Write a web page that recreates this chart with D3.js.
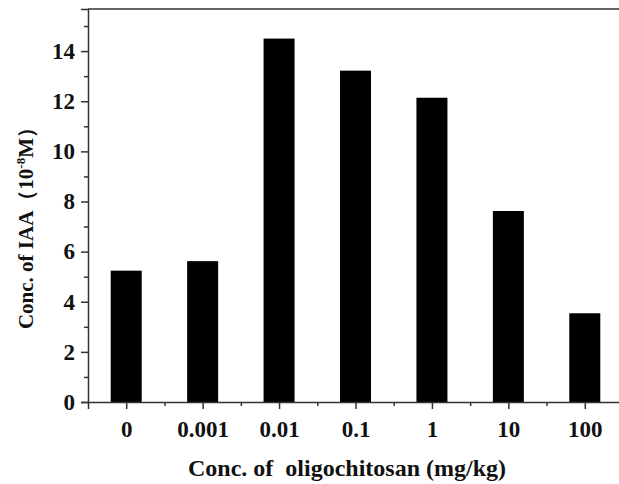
<!DOCTYPE html>
<html lang="en">
<head>
<meta charset="UTF-8">
<title>Conc. of IAA</title>
<script src="https://d3js.org/d3.v7.min.js"></script>
<style>
    body {
        margin: 0;
        padding: 0;
        background: #fff;
        overflow: hidden;
    }
    svg text {
        font-family: "Liberation Serif", "Times New Roman", serif;
        font-weight: bold;
        fill: #111;
    }
</style>
</head>
<body>
<div id="chart"></div>
<script>
    // data
    const categories = ['0', '0.001', '0.01', '0.1', '1', '10', '100'];
    const iaaValues = [5.24, 5.62, 14.5, 13.22, 12.14, 7.62, 3.54];
    const yTicks = [0, 2, 4, 6, 8, 10, 12, 14];
    const yMinorTicks = [1, 3, 5, 7, 9, 11, 13, 15];

    const W = 619, H = 484;
    const margin = {left: 88, top: 9, right: -4, bottom: 82};
    const plotW = W - margin.left - margin.right;
    const plotH = H - margin.top - margin.bottom;

    const svg = d3.select('#chart').append('svg')
        .attr('width', W)
        .attr('height', H);

    const g = svg.append('g')
        .attr('transform', `translate(${margin.left},${margin.top})`);

    // x as a linear index scale so minor ticks can sit between categories
    const x = d3.scaleLinear()
        .domain([-0.5, categories.length - 0.5])
        .range([0, plotW]);

    const y = d3.scaleLinear()
        .domain([0, 15.68])
        .range([plotH, 0]);

    const barW = 31;

    // bars
    g.selectAll('rect.bar')
        .data(iaaValues)
        .enter()
        .append('rect')
        .attr('class', 'bar')
        .attr('x', (d, i) => x(i) - barW / 2)
        .attr('y', d => y(d))
        .attr('width', barW)
        .attr('height', d => y(0) - y(d))
        .attr('fill', '#000');

    // frame: top line
    g.append('line')
        .attr('x1', 0).attr('x2', plotW)
        .attr('y1', 0).attr('y2', 0)
        .attr('stroke', '#333').attr('stroke-width', 1.5);

    // y axis
    const yAxis = g.append('g')
        .call(d3.axisLeft(y).tickValues(yTicks).tickSize(7).tickPadding(6).tickFormat(d3.format('d')));
    yAxis.select('.domain').attr('stroke', '#333').attr('stroke-width', 1.5);
    yAxis.selectAll('.tick line').attr('stroke', '#333').attr('stroke-width', 1.5);
    yAxis.selectAll('text').style('font-size', '23px');

    const yMinor = g.append('g')
        .call(d3.axisLeft(y).tickValues(yMinorTicks).tickSize(4).tickFormat(''));
    yMinor.select('.domain').remove();
    yMinor.selectAll('.tick line').attr('stroke', '#333').attr('stroke-width', 1.5);

    // x axis
    const xAxis = g.append('g')
        .attr('transform', `translate(0,${plotH})`)
        .call(d3.axisBottom(x).tickValues(d3.range(categories.length))
            .tickSize(7).tickPadding(12).tickFormat(i => categories[i]));
    xAxis.select('.domain').attr('stroke', '#333').attr('stroke-width', 1.5);
    xAxis.selectAll('.tick line').attr('stroke', '#333').attr('stroke-width', 1.5);
    xAxis.selectAll('text').style('font-size', '23px');

    const xMinor = g.append('g')
        .attr('transform', `translate(0,${plotH})`)
        .call(d3.axisBottom(x).tickValues(d3.range(categories.length - 1).map(i => i + 0.5))
            .tickSize(4).tickFormat(''));
    xMinor.select('.domain').remove();
    xMinor.selectAll('.tick line').attr('stroke', '#333').attr('stroke-width', 1.5);

    // axis titles
    svg.append('text')
        .attr('x', 347)
        .attr('y', 476)
        .attr('text-anchor', 'middle')
        .style('font-size', '24px')
        .text('Conc. of\u00a0\u00a0oligochitosan (mg/kg)');

    const yTitle = svg.append('text')
        .attr('transform', 'translate(33,223) rotate(-90)')
        .attr('text-anchor', 'middle')
        .style('font-size', '21px');
    yTitle.append('tspan').text('Conc. of IAA\uff0810');
    yTitle.append('tspan').attr('dy', -8).style('font-size', '13px').text('-8');
    yTitle.append('tspan').attr('dy', 8).text('M\uff09');
</script>
</body>
</html>
